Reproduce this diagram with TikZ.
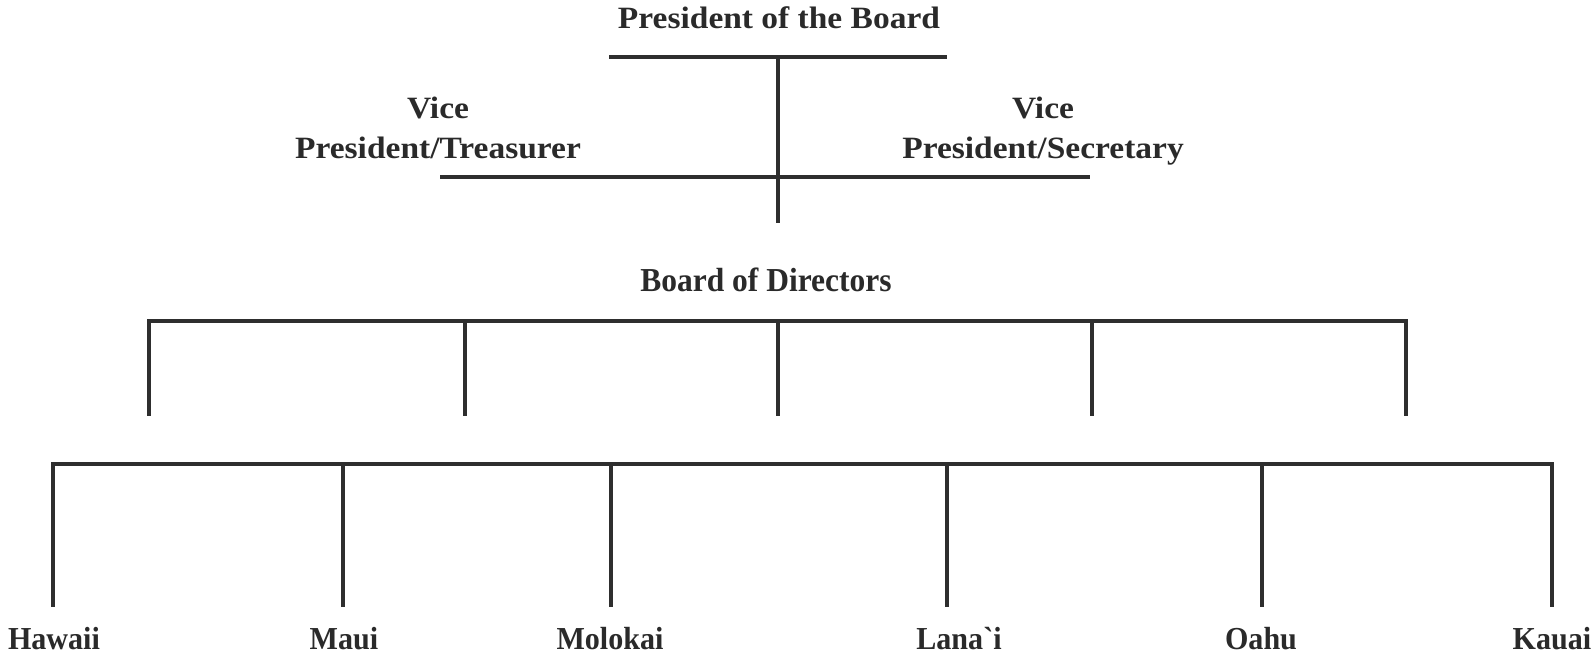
\documentclass[tikz,border=0pt]{standalone}
\usepackage{fontspec}
\setmainfont{Liberation Serif}
\newfontfamily\topfont[FakeStretch=1.08]{Liberation Serif}
\newfontfamily\lowfont[FakeStretch=0.94]{Liberation Serif}
\definecolor{linec}{HTML}{2E2E2E}
\definecolor{textc}{HTML}{2A2A2A}
\begin{document}
\begin{tikzpicture}[x=1pt,y=-1pt,
  bar/.style={line width=4pt, draw=linec},
  lab/.style={inner sep=0pt, font=\topfont\bfseries\fontsize{31}{40}\selectfont, text=textc},
  isl/.style={inner sep=0pt, font=\lowfont\bfseries\fontsize{32}{36}\selectfont, text=textc, anchor=base},
  brd/.style={isl, font=\lowfont\bfseries\fontsize{33.5}{36}\selectfont}]
\useasboundingbox[fill=white] (0,0) rectangle (1591,653);
% top level
\node[lab, anchor=base] (pres) at (779,28) {President of the Board};
\coordinate (pl) at (609,57);
\coordinate (pr) at (947,57);
\coordinate (ptop) at (778,57);
\coordinate (vmid) at (778,177);
\coordinate (pbot) at (778,223);
\coordinate (vl) at (440,177);
\coordinate (vr) at (1090,177);
\node[lab, align=center, anchor=north] (vpt) at (438,97) {Vice\\President/Treasurer};
\node[lab, align=center, anchor=north] (vps) at (1043,97) {Vice\\President/Secretary};
\draw[bar] (pl) -- (pr);
\draw[bar] (ptop) -- (pbot);
\draw[bar] (vl) -- (vr);
% board
\node[brd] (board) at (766,291) {Board of Directors};
\coordinate (b1) at (149,321);
\coordinate (b2) at (465,321);
\coordinate (b3) at (778,321);
\coordinate (b4) at (1092,321);
\coordinate (b5) at (1406,321);
\coordinate (b1e) at (149,416);
\coordinate (b2e) at (465,416);
\coordinate (b3e) at (778,416);
\coordinate (b4e) at (1092,416);
\coordinate (b5e) at (1406,416);
\draw[bar] ([xshift=-2pt]b1) -- ([xshift=2pt]b5);
\foreach \i in {1,...,5} {\draw[bar] (b\i) -- (b\i e);}
% islands
\coordinate (i1) at (53,464);
\coordinate (i2) at (343,464);
\coordinate (i3) at (611,464);
\coordinate (i4) at (947,464);
\coordinate (i5) at (1262,464);
\coordinate (i6) at (1552,464);
\node[isl] (hawaii) at (54,649) {Hawaii};
\node[isl] (maui) at (344,649) {Maui};
\node[isl] (molokai) at (610,649) {Molokai};
\node[isl] (lanai) at (959,649) {Lana`i};
\node[isl] (oahu) at (1261,649) {Oahu};
\node[isl] (kauai) at (1552,649) {Kauai};
\draw[bar] ([xshift=-2pt]i1) -- ([xshift=2pt]i6);
\draw[bar] (i1) -- (i1 |- 0,607);
\draw[bar] (i2) -- (i2 |- 0,607);
\draw[bar] (i3) -- (i3 |- 0,607);
\draw[bar] (i4) -- (i4 |- 0,607);
\draw[bar] (i5) -- (i5 |- 0,607);
\draw[bar] (i6) -- (i6 |- 0,607);
\end{tikzpicture}
\end{document}
